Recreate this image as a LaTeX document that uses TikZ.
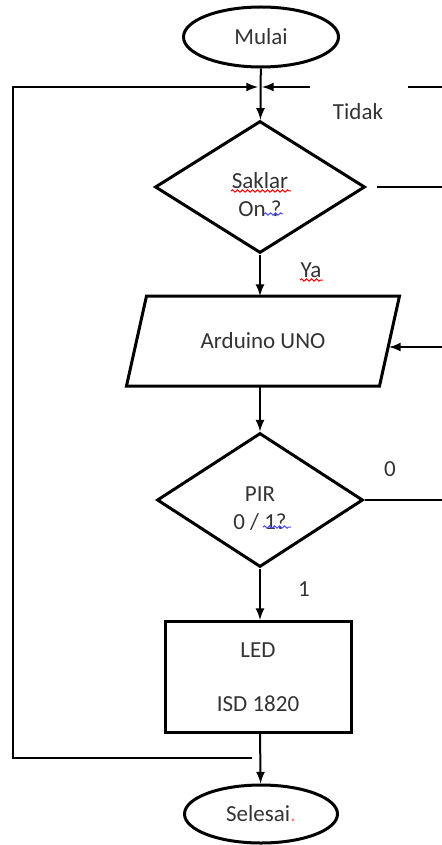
\documentclass[tikz,border=0pt]{standalone}
\usepackage{fontspec}
\setmainfont{Carlito}
\usetikzlibrary{shapes.geometric,decorations.pathmorphing}

\begin{document}
\begin{tikzpicture}[x=0.5pt,y=-0.5pt,>=latex,
  box/.style={draw,line width=1.5pt,text=black!80,align=center,inner sep=0pt,
    font=\fontsize{11.5}{14}\selectfont},
  lbl/.style={text=black!80,font=\fontsize{11.5}{14}\selectfont},
  conn/.style={line width=1pt},
  spell/.style={decorate,decoration={snake,amplitude=0.6pt,segment length=2.5pt},line width=0.5pt}]
\useasboundingbox (0,0) rectangle (442,845);

\node[ellipse,box,minimum width=77.5pt,minimum height=30pt] (mulai) at (261,37) {Mulai};
\node[diamond,box,minimum width=105pt,minimum height=66pt] (saklar) at (260,187) {\rule{0pt}{15.5pt}Saklar\\On ?};
\node[box,draw=none,minimum width=125pt,minimum height=43.5pt] (uno) at (263,341) {Arduino UNO};
\draw[line width=1.5pt] ([xshift=5pt]uno.north west) -- ([xshift=5pt]uno.north east)
  -- ([xshift=-5pt]uno.south east) -- ([xshift=-5pt]uno.south west) -- cycle;
\node[diamond,box,minimum width=103pt,minimum height=67pt] (pir) at (260,500) {\rule{0pt}{15.5pt}PIR\\0 / 1?};
\node[rectangle,box,minimum width=93pt,minimum height=55.5pt] (led) at (258,677) {LED\\[13pt]ISD 1820};
\node[ellipse,box,minimum width=76.5pt,minimum height=29pt] (selesai) at (261,814) {Selesai{\color{red!50}.}};

\coordinate (j) at (260,87);
\coordinate (back) at (252,758);
\coordinate (tidak1) at (310,87);
\coordinate (tidak2) at (408,87);
\coordinate (r0) at (442,87);
\coordinate (r1) at (442,187);
\coordinate (r2) at (442,347);
\coordinate (r3) at (442,500);
\coordinate (tip) at (389,347);

\draw[conn,->] (mulai) -- (saklar);
\draw[conn,->] (back) -- (13,758) -- (13,87) -- ([xshift=-1pt]j);
\draw[conn,->] (tidak1) -- ([xshift=1pt]j);
\draw[conn] (tidak2) -- (r0);
\node[lbl] (tidak) at (358,112) {Tidak};

\draw[conn] ([xshift=5pt]saklar.east) -- (r1);
\draw[conn,->] (saklar) -- (saklar |- uno.north);
\node[lbl] (ya) at (311,270) {Ya};
\draw[conn,->] (r2) -- (tip);

\draw[conn,->] (saklar |- uno.south) -- (pir);
\draw[conn] (pir.east) -- (r3);
\node[lbl] (nol) at (390,469) {0};
\draw[conn,->] (pir) -- (pir |- led.north);
\node[lbl] (satu) at (304,589) {1};

\draw[conn,->] (pir |- led.south) -- (selesai);

% spelling marks
\draw[spell,red] (231,191) -- (291,191);
\draw[spell,blue!70] (264,214) -- (283,214);
\draw[spell,red] (300,280) -- (323,280);
\draw[spell,blue!70] (263,527) -- (291,527);
\end{tikzpicture}
\end{document}
